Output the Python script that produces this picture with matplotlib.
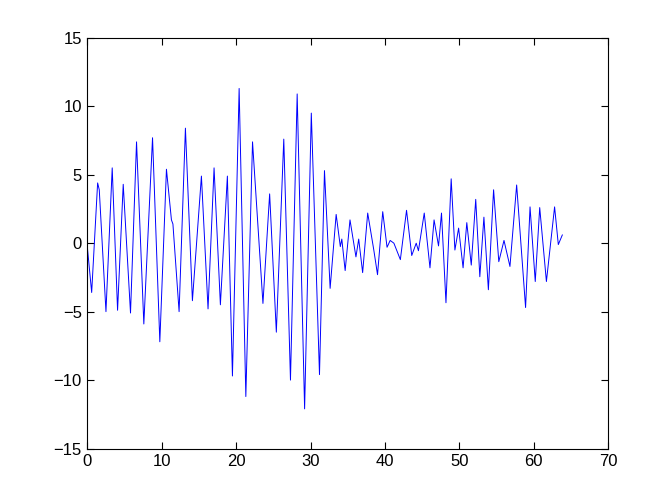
import numpy as np
import matplotlib
matplotlib.use("Agg")
import matplotlib.pyplot as plt

# turning points (time, amplitude)
t = [0.0, 0.58, 1.38, 1.6, 2.5, 3.34, 4.06, 4.82, 5.8, 6.61, 7.59, 8.76, 9.74,
     10.63, 11.3, 11.5, 12.33, 13.18, 14.12, 15.33, 16.22, 17.03, 17.88, 18.82,
     19.5, 20.4, 21.3, 22.2, 23.6, 24.5, 25.4, 26.4, 27.3, 28.2, 29.2, 30.1,
     31.2, 31.87, 32.63, 33.44, 34.0, 34.2, 34.65, 35.3, 36.1, 36.47, 37.0,
     37.68, 38.5, 39.0, 39.7, 40.28, 40.7, 41.2, 42.07, 42.9, 43.6, 44.2, 44.5,
     45.28, 46.05, 46.6, 47.2, 47.6, 48.2, 48.9, 49.4, 49.9, 50.5, 51.0, 51.6,
     52.2, 52.75, 53.3, 53.9, 54.6, 55.3, 56.0, 56.8, 57.7, 58.9, 59.5, 60.2,
     60.8, 61.7, 62.8, 63.3, 63.84]
y = [-0.3, -3.6, 4.4, 3.9, -5.0, 5.5, -4.9, 4.3, -5.1, 7.4, -5.9, 7.7, -7.2,
     5.4, 1.7, 1.4, -5.0, 8.4, -4.2, 4.9, -4.8, 5.5, -4.5, 4.9,
     -9.7, 11.3, -11.2, 7.4, -4.4, 3.6, -6.5, 7.6, -10.0, 10.9, -12.1, 9.5,
     -9.6, 5.3, -3.3, 2.1, -0.25, 0.3, -2.0, 1.7, -1.0, 0.3, -2.15,
     2.2, -0.5, -2.3, 2.3, -0.3, 0.2, 0.0, -1.2, 2.4, -0.9, 0.0, -0.55,
     2.2, -1.8, 1.7, -0.2, 2.2, -4.35, 4.7, -0.5, 1.1, -1.8, 1.5, -1.6,
     3.2, -2.45, 1.9, -3.4, 3.9, -1.35, 0.2, -1.7, 4.25, -4.7, 2.65, -2.8,
     2.6, -2.8, 2.65, -0.1, 0.6]

plt.rcParams['font.family'] = ['Liberation Sans', 'DejaVu Sans']

fig = plt.figure(figsize=(6.72, 5.04), dpi=100)
ax = fig.add_axes([0.13, 0.11, 0.775, 0.815])
ax.plot(t, y, color=(0, 0, 1), linewidth=0.7)
ax.set_xlim(0, 70)
ax.set_ylim(-15, 15)
ax.set_xticks(np.arange(0, 71, 10))
ax.set_yticks(np.arange(-15, 16, 5))
ax.tick_params(direction='in', top=True, right=True, length=5, width=0.8,
               labelsize=12, pad=4)
for s in ax.spines.values():
    s.set_linewidth(0.8)

plt.savefig('out.png', dpi=100)
